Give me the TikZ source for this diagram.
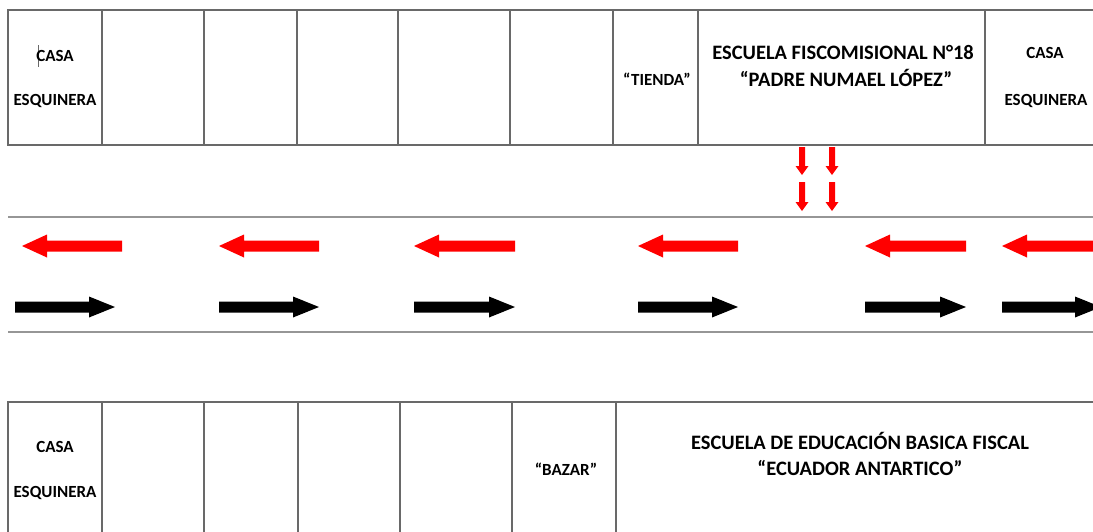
\documentclass[tikz,border=0pt]{standalone}
\usepackage{fontspec}
\setmainfont{Carlito}
\definecolor{cellgray}{RGB}{105,105,105}
\definecolor{roadgray}{RGB}{150,150,150}
\definecolor{arrred}{RGB}{255,0,0}
% left-pointing fat arrow: head x, tail x, y
\newcommand\larr[3]{\fill[arrred] ({#2},{#3-5.5}) -- ({#1+25},{#3-5.5}) -- ({#1+25},{#3-11.5}) -- ({#1},{#3}) -- ({#1+25},{#3+11.5}) -- ({#1+25},{#3+5.5}) -- ({#2},{#3+5.5}) -- cycle;}
% right-pointing fat arrow: tail x, head x, y
\newcommand\rarr[3]{\fill[black] ({#1},{#3-5.5}) -- ({#2-26},{#3-5.5}) -- ({#2-26},{#3-10.5}) -- ({#2},{#3}) -- ({#2-26},{#3+10.5}) -- ({#2-26},{#3+5.5}) -- ({#1},{#3+5.5}) -- cycle;}
% small downward arrow: x, top y, tip y
\newcommand\darr[3]{\fill[arrred] ({#1-3},{#2}) -- ({#1-3},{#3-9}) -- ({#1-6.5},{#3-9}) -- ({#1},{#3}) -- ({#1+6.5},{#3-9}) -- ({#1+3},{#3-9}) -- ({#1+3},{#2}) -- cycle;}
\tikzset{
  cellline/.style={draw=cellgray, line width=1.8pt},
  roadline/.style={draw=roadgray, line width=2pt},
  small/.style={font=\fontsize{17}{20}\selectfont\bfseries, anchor=base, inner sep=0pt},
  big/.style={font=\fontsize{20.5}{24}\selectfont\bfseries, anchor=base, inner sep=0pt},
}
\begin{document}
\begin{tikzpicture}[x=1pt,y=-1pt]
\useasboundingbox (0,0) rectangle (1093,531);
\fill[white] (0,0) rectangle (1093,531);
\clip (0,0) rectangle (1093,531);
% top row of buildings
\draw[cellline] (1110,10) -- (8,10) -- (8,145) -- (1110,145);
\foreach \x in {102,204,297,398,510,613,698,985}
  \draw[cellline] (\x,10) -- (\x,145);
% bottom row of buildings
\draw[cellline] (8,545) -- (8,402) -- (1110,402);
\foreach \x in {102,204,298,400,512,616}
  \draw[cellline] (\x,402) -- (\x,545);
% road edges
\draw[roadline] (8,217) -- (1110,217);
\draw[roadline] (8,332) -- (1110,332);
% text cursor mark
\draw[cellgray, line width=0.8pt] (38.5,45) -- (38.5,67);
% top labels
\node[small] (tcasa1) at (55,61.5) {CASA};
\node[small] (tesq1) at (55,105.5) {ESQUINERA};
\node[small] (tienda) at (657,85.5) {“TIENDA”};
\node[big] (esc1a) at (843,59.6) {ESCUELA FISCOMISIONAL N°18};
\node[big] (esc1b) at (846,86.6) {“PADRE NUMAEL LÓPEZ”};
\node[small] (tcasa2) at (1045,58.5) {CASA};
\node[small] (tesq2) at (1046,105.5) {ESQUINERA};
% bottom labels
\node[small] (bcasa) at (55,452.5) {CASA};
\node[small] (besq) at (55,497.5) {ESQUINERA};
\node[small] (bazar) at (566,475.5) {“BAZAR”};
\node[big] (esc2a) at (860,449.6) {ESCUELA DE EDUCACIÓN BASICA FISCAL};
\node[big] (esc2b) at (860,475.6) {“ECUADOR ANTARTICO”};
% small exit arrows
\darr{802}{147}{175}
\darr{802}{182}{211}
\darr{832}{147}{175}
\darr{832}{182}{211}
% traffic arrows
\larr{22}{122}{246}
\larr{219}{319}{246}
\larr{414}{515}{246}
\larr{638}{738}{246}
\larr{865}{966}{246}
\larr{1002}{1110}{246}
\rarr{15}{115}{307}
\rarr{219}{319}{307}
\rarr{414}{515}{307}
\rarr{638}{738}{307}
\rarr{865}{966}{307}
\rarr{1002}{1101}{307}
\end{tikzpicture}
\end{document}
